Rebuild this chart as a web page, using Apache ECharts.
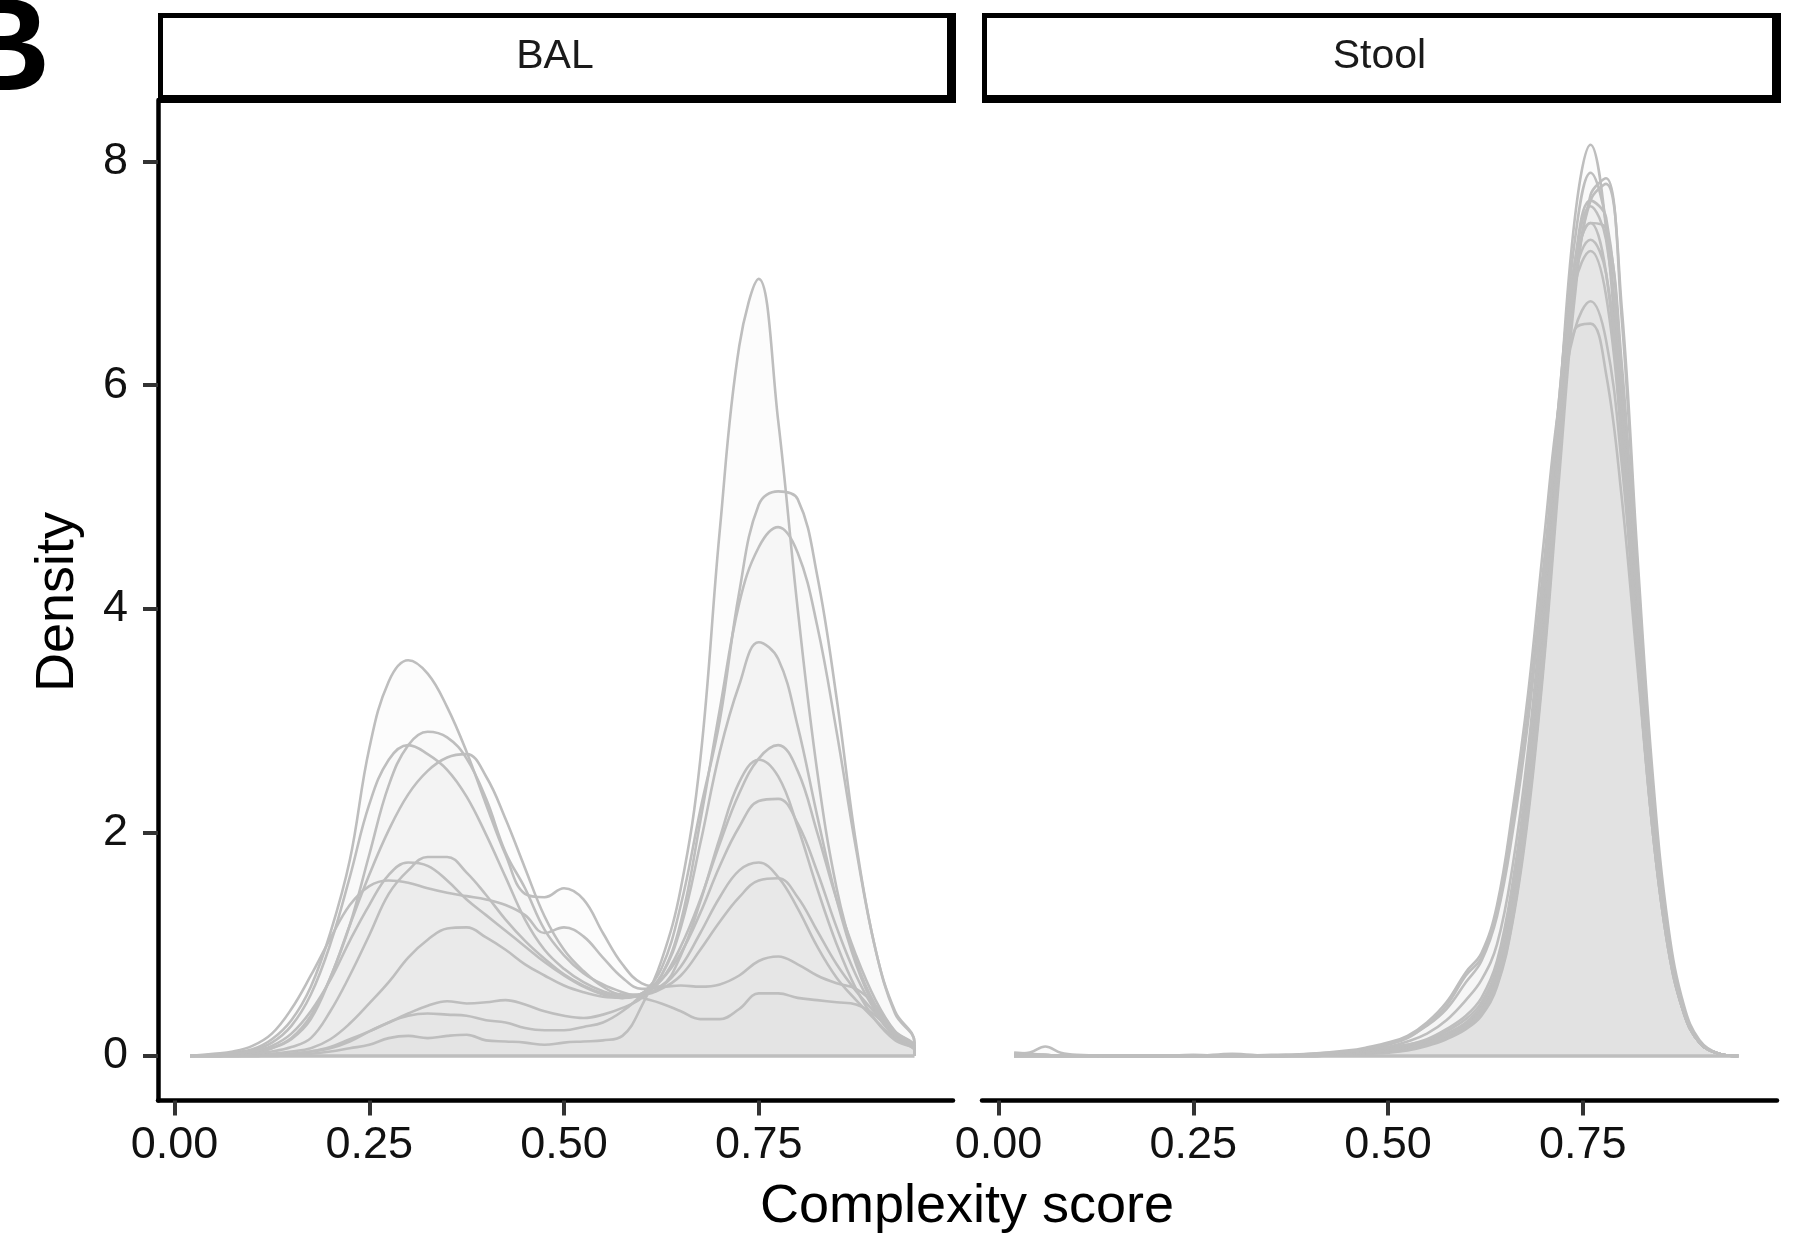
<!DOCTYPE html>
<html>
<head>
<meta charset="utf-8">
<title>Complexity score density: BAL vs Stool</title>
<script src="https://cdn.jsdelivr.net/npm/echarts@6/dist/echarts.min.js"></script>
<style>
  html, body { margin: 0; padding: 0; background: #fff; }
  #chart { width: 1809px; height: 1244px; }
</style>
</head>
<body>
<div id="chart"></div>
<script>
// panels and axis ticks
const panelNames = ['BAL', 'Stool'];
const xTicks = [0, 0.25, 0.5, 0.75];
const yTicks = [0, 2, 4, 6, 8];

// BAL: x positions where the curves were read, one array per sample
const balX = [0.02, 0.05, 0.075, 0.1, 0.125, 0.15, 0.175, 0.2, 0.225, 0.25, 0.275, 0.3, 0.325, 0.35, 0.375, 0.4, 0.425, 0.45, 0.475, 0.5,
  0.525, 0.55, 0.575, 0.6, 0.625, 0.65, 0.675, 0.7, 0.725, 0.75, 0.775, 0.8, 0.825, 0.85, 0.875, 0.9, 0.925, 0.95];
const balA = [0, 0.01, 0.03, 0.06, 0.15, 0.32, 0.62, 1.1, 1.75, 2.75, 3.35, 3.54, 3.42, 3.12, 2.72, 2.25, 1.8, 1.45, 1.42, 1.5,
  1.4, 1.1, 0.82, 0.65, 0.62, 0.63, 0.62, 0.64, 0.72, 0.85, 0.89, 0.82, 0.72, 0.65, 0.6, 0.45, 0.22, 0.08];
const balB = [0, 0, 0.01, 0.03, 0.07, 0.15, 0.33, 0.7, 1.17, 1.8, 2.42, 2.78, 2.9, 2.85, 2.66, 2.3, 1.82, 1.5, 1.13, 0.9,
  0.74, 0.64, 0.57, 0.52, 0.47, 0.4, 0.33, 0.33, 0.42, 0.56, 0.56, 0.52, 0.5, 0.48, 0.46, 0.36, 0.18, 0.06];
const balC = [0, 0.01, 0.02, 0.05, 0.12, 0.27, 0.55, 1.0, 1.6, 2.25, 2.65, 2.78, 2.7, 2.56, 2.32, 1.98, 1.6, 1.22, 0.95, 0.78,
  0.66, 0.58, 0.54, 0.55, 0.62, 0.8, 1.1, 1.42, 1.66, 1.73, 1.6, 1.32, 0.98, 0.7, 0.5, 0.32, 0.15, 0.05];
const balD = [0, 0, 0.01, 0.03, 0.07, 0.16, 0.36, 0.7, 1.17, 1.62, 2.02, 2.34, 2.55, 2.67, 2.7, 2.5, 2.12, 1.68, 1.25, 0.95,
  0.76, 0.62, 0.55, 0.55, 0.6, 0.72, 0.95, 1.2, 1.42, 1.57, 1.59, 1.42, 1.12, 0.82, 0.58, 0.38, 0.17, 0.06];
const balE = [0, 0, 0.01, 0.02, 0.04, 0.08, 0.16, 0.4, 0.72, 1.08, 1.45, 1.66, 1.78, 1.78, 1.64, 1.44, 1.22, 1.03, 0.87, 0.73,
  0.63, 0.56, 0.52, 0.55, 0.68, 0.98, 1.4, 1.9, 2.35, 2.66, 2.78, 2.55, 2.0, 1.4, 0.9, 0.5, 0.22, 0.07];
const balF = [0, 0.01, 0.02, 0.04, 0.09, 0.2, 0.4, 0.68, 1.03, 1.35, 1.62, 1.73, 1.7, 1.57, 1.4, 1.26, 1.12, 0.98, 0.84, 0.72,
  0.62, 0.55, 0.52, 0.56, 0.68, 0.92, 1.28, 1.7, 2.05, 2.28, 2.3, 2.08, 1.65, 1.15, 0.72, 0.4, 0.18, 0.06];
const balG = [0, 0.02, 0.04, 0.09, 0.2, 0.42, 0.72, 1.05, 1.35, 1.52, 1.57, 1.55, 1.5, 1.46, 1.43, 1.4, 1.35, 1.26, 1.1, 1.15,
  1.07, 0.88, 0.7, 0.6, 0.63, 0.9, 1.38, 1.95, 2.45, 2.65, 2.5, 2.05, 1.5, 1.0, 0.6, 0.32, 0.14, 0.05];
const balH = [0, 0, 0, 0.01, 0.02, 0.04, 0.07, 0.15, 0.29, 0.47, 0.66, 0.88, 1.04, 1.14, 1.15, 1.06, 0.95, 0.82, 0.72, 0.63,
  0.57, 0.53, 0.52, 0.56, 0.72, 1.15, 1.9, 2.72, 3.32, 3.7, 3.55, 2.95, 2.15, 1.4, 0.82, 0.42, 0.18, 0.06];
const balI = [0, 0, 0, 0, 0.01, 0.02, 0.04, 0.07, 0.13, 0.22, 0.3, 0.38, 0.45, 0.49, 0.47, 0.48, 0.5, 0.46, 0.4, 0.36,
  0.34, 0.37, 0.43, 0.52, 0.72, 1.2, 2.1, 3.1, 4.05, 4.55, 4.73, 4.5, 3.85, 2.9, 1.85, 0.95, 0.38, 0.12];
const balJ = [0, 0, 0, 0, 0.01, 0.02, 0.04, 0.08, 0.15, 0.22, 0.3, 0.36, 0.38, 0.37, 0.36, 0.32, 0.3, 0.25, 0.23, 0.23,
  0.26, 0.3, 0.4, 0.55, 0.78, 1.35, 2.2, 3.0, 4.15, 4.93, 5.05, 4.98, 4.3, 3.2, 1.9, 0.95, 0.4, 0.12];
const balK = [0, 0, 0, 0, 0, 0.01, 0.02, 0.04, 0.07, 0.1, 0.16, 0.18, 0.16, 0.18, 0.19, 0.14, 0.13, 0.12, 0.1, 0.12,
  0.13, 0.14, 0.18, 0.45, 0.85, 1.5, 2.65, 4.7, 6.35, 6.95, 5.68, 4.0, 2.55, 1.5, 0.85, 0.45, 0.2, 0.07];

// Stool: finer steps around the peak
const stoolX = [0.02, 0.04, 0.06, 0.08, 0.1, 0.15, 0.2, 0.25, 0.3, 0.35, 0.4, 0.45, 0.475, 0.5, 0.525, 0.55, 0.575, 0.6,
  0.62, 0.64, 0.66, 0.68, 0.7, 0.72, 0.74, 0.76, 0.78, 0.8, 0.82, 0.84, 0.86, 0.88, 0.9, 0.925, 0.95];
const stoolA = [0, 0, 0, 0, 0, 0, 0, 0, 0, 0, 0, 0.01, 0.02, 0.04, 0.06, 0.1, 0.16, 0.26,
  0.38, 0.66, 1.3, 2.3, 3.8, 5.8, 7.5, 8.15, 7.4, 5.6, 3.6, 2.0, 0.95, 0.38, 0.12, 0.02, 0];
const stoolB = [0.02, 0.01, 0.01, 0, 0, 0, 0, 0, 0, 0, 0.01, 0.02, 0.03, 0.05, 0.08, 0.12, 0.18, 0.28,
  0.42, 0.7, 1.35, 2.4, 3.9, 5.8, 7.3, 7.9, 7.45, 5.8, 3.8, 2.1, 1.0, 0.4, 0.12, 0.02, 0];
const stoolC = [0, 0, 0, 0, 0, 0, 0, 0, 0, 0, 0, 0.01, 0.02, 0.03, 0.05, 0.09, 0.15, 0.24,
  0.36, 0.62, 1.2, 2.15, 3.5, 5.2, 6.8, 7.7, 7.85, 6.6, 4.4, 2.4, 1.1, 0.42, 0.13, 0.02, 0];
const stoolD = [0, 0.01, 0.01, 0, 0, 0, 0, 0.01, 0, 0, 0, 0.02, 0.03, 0.05, 0.07, 0.1, 0.16, 0.25,
  0.38, 0.64, 1.22, 2.2, 3.55, 5.3, 6.9, 7.65, 7.8, 6.7, 4.5, 2.5, 1.15, 0.45, 0.14, 0.02, 0];
const stoolE = [0, 0, 0, 0, 0, 0, 0, 0, 0, 0, 0.01, 0.02, 0.04, 0.06, 0.09, 0.13, 0.2, 0.3,
  0.45, 0.75, 1.4, 2.45, 3.9, 5.7, 7.1, 7.65, 7.5, 6.1, 4.1, 2.2, 1.0, 0.4, 0.12, 0.02, 0];
const stoolF = [0.01, 0, 0, 0, 0, 0, 0, 0, 0.01, 0, 0, 0.03, 0.05, 0.08, 0.1, 0.14, 0.22, 0.33,
  0.48, 0.8, 1.5, 2.55, 4.0, 5.8, 7.1, 7.6, 7.3, 5.9, 3.9, 2.1, 1.0, 0.38, 0.12, 0.02, 0];
const stoolG = [0, 0, 0, 0, 0, 0, 0, 0, 0, 0, 0, 0.02, 0.03, 0.05, 0.08, 0.12, 0.18, 0.27,
  0.4, 0.68, 1.3, 2.3, 3.7, 5.5, 6.9, 7.45, 7.4, 6.2, 4.2, 2.3, 1.05, 0.4, 0.12, 0.02, 0];
const stoolH = [0, 0, 0, 0, 0, 0, 0, 0, 0, 0, 0.01, 0.02, 0.04, 0.07, 0.1, 0.15, 0.24, 0.36,
  0.52, 0.85, 1.55, 2.6, 4.1, 5.9, 7.1, 7.45, 7.0, 5.5, 3.6, 2.0, 0.95, 0.38, 0.12, 0.02, 0];
const stoolI = [0, 0, 0, 0, 0, 0, 0, 0, 0, 0, 0.01, 0.03, 0.05, 0.08, 0.13, 0.2, 0.32, 0.5,
  0.68, 1.0, 1.7, 2.75, 4.2, 5.9, 7.0, 7.3, 7.0, 5.7, 3.8, 2.1, 1.0, 0.38, 0.12, 0.02, 0];
const stoolJ = [0.03, 0.02, 0.01, 0, 0, 0, 0, 0, 0, 0, 0.02, 0.04, 0.06, 0.1, 0.16, 0.28, 0.45, 0.72,
  0.88, 1.3, 2.1, 3.1, 4.4, 5.7, 6.5, 6.75, 6.4, 5.3, 3.7, 2.1, 1.0, 0.4, 0.12, 0.02, 0];
const stoolK = [0.02, 0.03, 0.085, 0.03, 0.01, 0, 0, 0, 0, 0.01, 0.02, 0.05, 0.08, 0.12, 0.18, 0.3, 0.48, 0.75,
  0.92, 1.35, 2.2, 3.25, 4.6, 5.85, 6.5, 6.55, 6.1, 5.0, 3.5, 2.0, 0.95, 0.38, 0.12, 0.02, 0];
const stoolL = [0, 0, 0, 0, 0, 0, 0, 0, 0.02, 0, 0.01, 0.04, 0.07, 0.11, 0.17, 0.27, 0.42, 0.66,
  0.85, 1.25, 2.0, 3.0, 4.3, 5.8, 6.9, 7.2, 6.8, 5.5, 3.7, 2.05, 0.98, 0.39, 0.12, 0.02, 0];

const balCurves = [balA, balB, balC, balD, balE, balF, balG, balH, balI, balJ, balK];
const stoolCurves = [stoolA, stoolB, stoolC, stoolD, stoolE, stoolF, stoolG, stoolH, stoolI, stoolJ, stoolK, stoolL];

const font = '"Liberation Sans", Arial, Helvetica, sans-serif';
const lineGrey = '#bebebe';
const fillGrey = 'rgba(211,211,211,0.1)';

// panel placement (px)
const panelLeft = [158, 982];
const panelWidth = 795;
const panelTop = 100;
const panelBottom = 1100.5;

function densitySeries(xs, ys, panel) {
  const data = xs.map((x, i) => [x, ys[i]]);
  data.push([xs[xs.length - 1], 0]);
  return {
    type: 'line',
    xAxisIndex: panel,
    yAxisIndex: panel,
    data: data,
    smooth: 0.4,
    symbol: 'none',
    silent: true,
    lineStyle: { color: lineGrey, width: 2.6 },
    areaStyle: { color: fillGrey, origin: 'auto' }
  };
}

function baseline(xs, panel) {
  return {
    type: 'line',
    xAxisIndex: panel,
    yAxisIndex: panel,
    data: [[xs[0], 0], [xs[xs.length - 1], 0]],
    symbol: 'none',
    silent: true,
    lineStyle: { color: lineGrey, width: 3.5 }
  };
}

const series = [];
balCurves.forEach(ys => series.push(densitySeries(balX, ys, 0)));
stoolCurves.forEach(ys => series.push(densitySeries(stoolX, ys, 1)));
series.push(baseline(balX, 0));
series.push(baseline(stoolX, 1));

function xAxisFor(i) {
  return {
    gridIndex: i,
    type: 'value',
    min: -0.0212,
    max: 0.9994,
    axisLine: { show: true, onZero: false, lineStyle: { color: '#000', width: 4.5 } },
    axisTick: { show: true, length: 15, customValues: xTicks, lineStyle: { color: '#333', width: 4 } },
    axisLabel: {
      customValues: xTicks,
      formatter: v => v.toFixed(2),
      fontSize: 45, color: '#111', fontFamily: font, margin: 23
    },
    splitLine: { show: false }
  };
}

function yAxisFor(i) {
  const shown = i === 0;
  return {
    gridIndex: i,
    type: 'value',
    min: -0.398,
    max: 8.55,
    axisLine: { show: shown, onZero: false, lineStyle: { color: '#000', width: 4.5 } },
    axisTick: { show: shown, length: 15, customValues: yTicks, lineStyle: { color: '#333', width: 4 } },
    axisLabel: {
      show: shown,
      customValues: yTicks,
      fontSize: 45, color: '#111', fontFamily: font, margin: 30
    },
    splitLine: { show: false }
  };
}

// facet strips: thin top/left border, heavier right/bottom border
function strip(i) {
  const x0 = panelLeft[i];
  const w = i === 0 ? 798 : 799;
  return [
    { type: 'rect', shape: { x: x0, y: 13, width: w, height: 90 }, style: { fill: '#000' }, z: 10 },
    { type: 'rect', shape: { x: x0 + 5, y: 18, width: w - 14, height: 77 }, style: { fill: '#fff' }, z: 11 },
    {
      type: 'text', x: x0 + 5 + (w - 14) / 2, y: 57, z: 12,
      style: { text: panelNames[i], font: '41px ' + font, fill: '#1a1a1a', align: 'center', verticalAlign: 'middle' }
    }
  ];
}

const chart = echarts.init(document.getElementById('chart'), null, { renderer: 'canvas' });
chart.setOption({
  animation: false,
  backgroundColor: '#fff',
  grid: panelLeft.map(l => ({
    left: l, width: panelWidth, top: panelTop, height: panelBottom - panelTop, containLabel: false
  })),
  xAxis: [xAxisFor(0), xAxisFor(1)],
  yAxis: [yAxisFor(0), yAxisFor(1)],
  series: series,
  graphic: [
    ...strip(0),
    ...strip(1),
    {
      type: 'text', x: 58, y: 602, rotation: Math.PI / 2,
      style: { text: 'Density', font: '54px ' + font, fill: '#000', align: 'center', verticalAlign: 'middle' }
    },
    {
      type: 'text', x: 967, y: 1207,
      style: { text: 'Complexity score', font: '54px ' + font, fill: '#000', align: 'center', verticalAlign: 'middle' }
    },
    {
      // panel tag, partly off the left edge as in the figure
      type: 'text', x: -45, y: 54,
      style: { text: 'B', font: 'bold 132px ' + font, fill: '#000', align: 'left', verticalAlign: 'middle' }
    }
  ]
});
</script>
</body>
</html>
